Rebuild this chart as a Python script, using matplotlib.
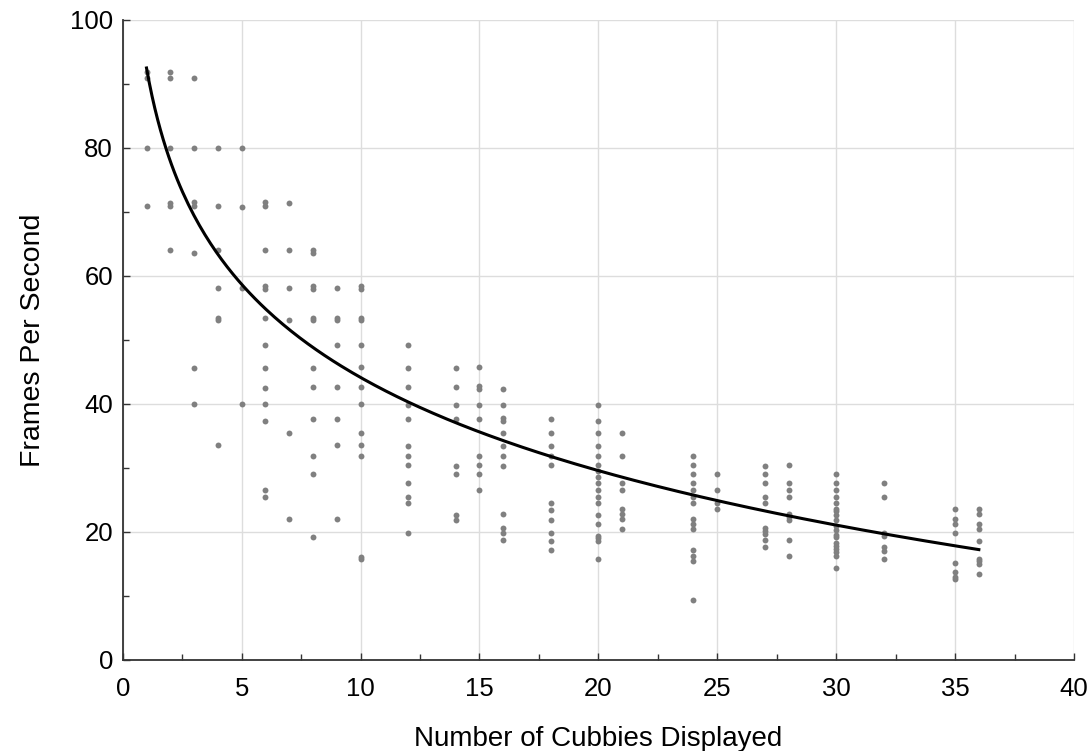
import numpy as np
import matplotlib
matplotlib.use("Agg")
import matplotlib.pyplot as plt
from matplotlib.ticker import MultipleLocator

plt.rcParams['font.family'] = ['Liberation Sans', 'DejaVu Sans']

# number of cubbies displayed, and measured frames per second at each count
cubby_counts = [1, 2, 3, 4, 5, 6, 7, 8, 9, 10, 12, 14, 15, 16, 18, 20, 21,
                24, 25, 27, 28, 30, 32, 35, 36]
fps_by_count = [
    [91.8, 90.9, 80.0, 70.9],
    [91.8, 90.9, 80.0, 71.4, 71.0, 64.0],
    [90.9, 80.0, 71.5, 71.0, 63.6, 45.6, 40.0],
    [80.0, 70.9, 64.0, 58.1, 53.5, 53.1, 33.6],
    [80.0, 70.8, 58.1, 40.0],
    [71.6, 70.9, 64.1, 58.4, 58.0, 53.4, 49.2, 45.6, 42.5, 40.0, 37.4, 26.6, 25.5],
    [71.4, 64.1, 58.1, 53.1, 35.5, 22.0],
    [64.0, 63.6, 58.4, 58.0, 53.5, 53.1, 45.6, 42.6, 37.6, 31.9, 29.0, 19.2],
    [58.1, 53.5, 53.1, 49.2, 42.6, 37.6, 33.6, 22.0],
    [58.4, 58.0, 53.5, 53.1, 49.2, 45.7, 42.6, 40.0, 35.5, 33.6, 31.9, 16.1, 15.8],
    [49.2, 45.6, 42.7, 39.9, 37.6, 33.5, 31.8, 30.4, 27.7, 25.5, 24.5, 19.9],
    [45.6, 42.6, 39.9, 37.6, 30.3, 29.0, 22.7, 21.9],
    [45.8, 42.8, 42.4, 39.9, 37.6, 31.9, 30.4, 29.0, 26.6],
    [42.4, 39.9, 37.8, 37.4, 35.4, 33.5, 31.9, 30.3, 22.8, 20.6, 19.9, 18.7],
    [37.6, 35.4, 33.5, 31.9, 30.4, 24.5, 23.5, 21.9, 19.9, 18.6, 17.2],
    [39.9, 37.4, 35.5, 33.5, 31.9, 30.4, 29.5, 28.6, 27.7, 26.6, 25.5, 24.5,
     22.7, 21.2, 19.4, 19.1, 18.6, 15.8],
    [35.4, 31.8, 27.7, 26.6, 23.6, 22.8, 22.0, 20.5],
    [31.8, 30.4, 29.0, 27.7, 26.6, 25.5, 24.5, 22.0, 21.25, 20.5, 17.2, 16.3, 15.5, 9.3],
    [29.0, 26.6, 24.5, 23.6],
    [30.3, 29.0, 27.7, 25.5, 24.5, 20.6, 20.1, 19.7, 18.7, 17.7],
    [30.4, 27.7, 26.6, 25.4, 22.8, 22.3, 21.9, 18.7, 16.25],
    [29.1, 27.7, 26.6, 25.5, 24.5, 23.6, 23.2, 22.7, 21.8, 21.0, 20.3, 19.5,
     19.2, 18.2, 17.8, 17.3, 16.9, 16.25, 14.4],
    [27.7, 25.5, 19.9, 19.3, 17.7, 17.1, 15.8],
    [23.6, 22.0, 21.3, 19.9, 15.1, 13.8, 13.0, 12.6],
    [23.6, 22.8, 21.3, 20.5, 18.6, 15.8, 15.4, 14.95, 13.5],
]

# logarithmic trend line as drawn in the chart: fps = a + b*ln(n)
trend_a = 92.5
trend_b = -21.0

x = np.concatenate([[c] * len(v) for c, v in zip(cubby_counts, fps_by_count)])
y = np.concatenate(fps_by_count)

xs = np.linspace(min(cubby_counts), max(cubby_counts), 300)
ys = trend_a + trend_b * np.log(xs)

fig = plt.figure(figsize=(10.89, 7.51), dpi=100)
ax = fig.add_axes([0.1127, 0.1212, 0.8735, 0.8522])

ax.scatter(x, y, s=18, color='#808080', linewidths=0, zorder=3)
ax.plot(xs, ys, color='black', lw=2.2, zorder=4)

ax.set_xlim(0, 40)
ax.set_ylim(0, 100)
ax.xaxis.set_major_locator(MultipleLocator(5))
ax.xaxis.set_minor_locator(MultipleLocator(2.5))
ax.yaxis.set_major_locator(MultipleLocator(20))
ax.yaxis.set_minor_locator(MultipleLocator(10))

ax.grid(True, which='major', color='#dddddd', lw=1.0, zorder=0)
ax.set_axisbelow(True)
for side in ['top', 'right']:
    ax.spines[side].set_visible(False)
for side in ['left', 'bottom']:
    ax.spines[side].set_color('#333333')
    ax.spines[side].set_linewidth(1.3)

ax.tick_params(which='both', direction='in', colors='#333333', labelcolor='black',
               labelsize=18.5)
ax.tick_params(which='major', length=5, width=1.0)
ax.tick_params(which='minor', length=4, width=1.0)
ax.tick_params(axis='x', which='major', pad=12)
ax.tick_params(axis='y', which='major', pad=7)

ax.set_xlabel('Number of Cubbies Displayed', fontsize=20, labelpad=18)
ax.set_ylabel('Frames Per Second', fontsize=20.5, labelpad=17)

fig.savefig('out.png', dpi=100, facecolor='white')
